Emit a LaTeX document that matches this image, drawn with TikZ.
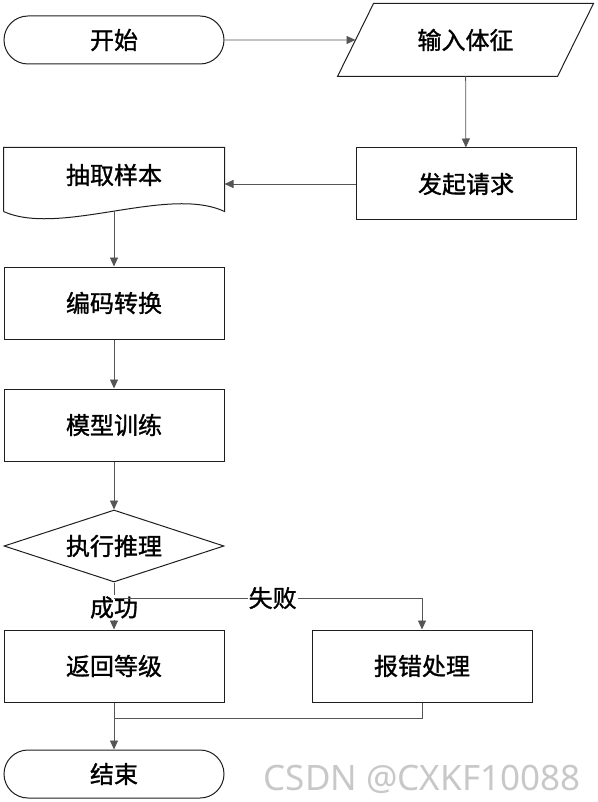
\documentclass[tikz,border=0pt]{standalone}
\usepackage{fontspec}
\newfontfamily\cjk[FakeBold=1.2]{Noto Sans CJK SC}
\newfontfamily\marksans{Noto Sans}
\definecolor{edgegray}{RGB}{85, 85, 85}
\definecolor{boxblack}{RGB}{30, 30, 30}
\definecolor{markgray}{RGB}{200, 200, 200}
\usetikzlibrary{shapes.geometric, shapes.misc, arrows.meta, positioning, calc}

\begin{document}
\begin{tikzpicture}[x=1pt, y=-1pt,
  box/.style={draw=boxblack, line width=1pt, minimum width=220pt, minimum height=72pt,
    inner sep=0pt, font=\cjk\fontsize{24}{24}\selectfont},
  term/.style={box, rounded rectangle, minimum height=48pt},
  bare/.style={box, draw=none},
  decide/.style={box, diamond, aspect=3},
  link/.style={draw=edgegray, line width=0.8pt},
  flow/.style={link, -{Triangle[length=9pt, width=8pt]}},
  lbl/.style={fill=white, inner sep=1pt, font=\cjk\fontsize{24}{24}\selectfont}]
  \useasboundingbox (0, 0) rectangle (597, 802);

  \node[term] (start) at (114, 40) {开始};
  \node[bare, minimum width=219pt] (input) at (465.5, 40) {输入体征};
  \draw[boxblack, line width=1pt] ($(input.north west)+(18, 0)$) -- ($(input.north east)+(18, 0)$)
    -- ($(input.south east)+(-18, 0)$) -- ($(input.south west)+(-18, 0)$) -- cycle;
  \node[box] (request) at (466, 184) {发起请求};
  \node[bare, minimum height=54pt] (sample) at (114, 175) {抽取样本};
  \draw[boxblack, line width=1pt] ($(sample.south west)+(0, 9)$) -- (sample.north west)
    -- (sample.north east) -- ($(sample.south east)+(0, 9)$)
    .. controls (168, 185) and (60, 237) .. ($(sample.south west)+(0, 9)$);
  \coordinate (wave) at ($(sample.south)+(0, 9)$);
  \node[box] (encode) at (114, 303) {编码转换};
  \node[box] (train) at (114, 425) {模型训练};
  \node[decide] (infer) at (114, 546) {执行推理};
  \node[box] (grade) at (114, 666) {返回等级};
  \node[box] (error) at (422, 666) {报错处理};
  \node[term] (finish) at (114, 774) {结束};

  \draw[flow] (start) -- (input);
  \draw[flow] (input) -- (request);
  \draw[flow] (request.west) -- (request.west -| sample.east);
  \draw[flow] (wave) -- (encode);
  \draw[flow] (encode) -- (train);
  \draw[flow] (train) -- (infer);

  \coordinate (split) at (114, 598);
  \coordinate (merge) at (114, 718);
  \draw[link] (infer.south) -- (split);
  \draw[flow] (split) -- node[lbl, pos=0.3] {成功} (grade);
  \draw[flow] (split) -- node[lbl, pos=0.515] {失败} (split -| error.north) -- (error);
  \draw[flow] (grade) -- (finish);
  \draw[link] (error.south) |- (merge);

  \node[markgray, font=\marksans\fontsize{35}{35}\selectfont] (mark) at (422, 779) {CSDN @CXKF10088};
\end{tikzpicture}
\end{document}
